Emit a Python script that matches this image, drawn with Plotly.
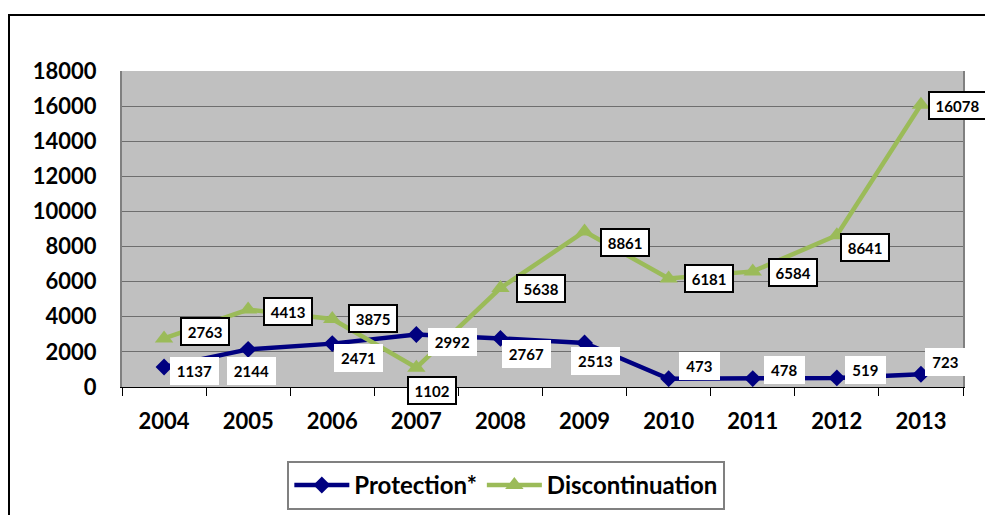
import plotly.graph_objects as go

years = ["2004", "2005", "2006", "2007", "2008", "2009", "2010", "2011", "2012", "2013"]
protection = [1137, 2144, 2471, 2992, 2767, 2513, 473, 478, 519, 723]
discontinuation = [2763, 4413, 3875, 1102, 5638, 8861, 6181, 6584, 8641, 16078]
series_names = ["Protection*", "Discontinuation"]
y_ticks = [0, 2000, 4000, 6000, 8000, 10000, 12000, 14000, 16000, 18000]

# label offsets (pixels, relative to the point)
prot_dx = [30, 3, 26, 36, 26, 11, 31, 32, 29, 25]
prot_dy = [4, 22, 14, 8, 16, 18, -13, -9, -8, -12]
disc_dx = [41, 40, 41, 16, 41, 40, 40, 40, 28, 37]
disc_dy = [-7, 2, 0, 23, 0, 11, 0, 1, 12, 1]

FONT = "Lato, 'Liberation Sans', sans-serif"
NAVY = "#000080"
GREEN = "#9BBB59"

xi = list(range(len(years)))

fig = go.Figure()
fig.add_trace(go.Scatter(
    x=xi, y=protection, name=series_names[0], mode="lines+markers",
    line=dict(color=NAVY, width=4.5),
    marker=dict(symbol="diamond", size=13, color=NAVY),
))
fig.add_trace(go.Scatter(
    x=xi, y=discontinuation, name=series_names[1], mode="lines+markers",
    line=dict(color=GREEN, width=4.5),
    marker=dict(symbol="triangle-up", size=16, color=GREEN),
))

annotations = []
for i, v in enumerate(protection):
    t = str(v)
    annotations.append(dict(
        x=xi[i], y=v, text="<b>%s</b>" % t, showarrow=False,
        xshift=prot_dx[i], yshift=-prot_dy[i],
        font=dict(family=FONT, size=15, color="black"),
        bgcolor="white", borderwidth=0, borderpad=0,
        width=len(t) * 8.2 + 16, height=28,
    ))
for i, v in enumerate(discontinuation):
    t = str(v)
    annotations.append(dict(
        x=xi[i], y=v, text="<b>%s</b>" % t, showarrow=False,
        xshift=disc_dx[i], yshift=-disc_dy[i],
        font=dict(family=FONT, size=15, color="black"),
        bgcolor="white", bordercolor="black", borderwidth=2, borderpad=3,
        width=len(t) * 8.8 + 5, height=19,
    ))

# page body has an 8px margin: plot area sits at (122..963, 71..387) on screen
fig.update_layout(
    width=985, height=507,
    margin=dict(l=114, r=30, t=63, b=128, autoexpand=False),
    paper_bgcolor="white",
    plot_bgcolor="#C0C0C0",
    font=dict(family=FONT, color="black"),
    showlegend=True,
    legend=dict(
        orientation="h", x=0.457, xanchor="center", y=-0.234, yanchor="top",
        bgcolor="white", bordercolor="#808080", borderwidth=2,
        font=dict(family=FONT, size=24, color="black", weight="bold"),
        itemwidth=55, tracegroupgap=0,
    ),
    annotations=annotations,
    shapes=[dict(
        type="rect", xref="paper", yref="paper",
        x0=(9 - 122) / 841, x1=(1010 - 122) / 841,
        y0=(387 - 540) / 316, y1=(387 - 15) / 316,
        line=dict(color="black", width=2), fillcolor="rgba(0,0,0,0)",
    )],
)

fig.update_xaxes(
    range=[-0.5, len(years) - 0.5],
    tickvals=xi, ticktext=years, ticks="",
    minor=dict(tickvals=[i - 0.5 for i in range(len(years) + 1)],
               ticks="outside", ticklen=8, tickcolor="black", tickwidth=1,
               showgrid=False),
    showline=True, linecolor="black", linewidth=1,
    showgrid=False, zeroline=False, ticklabelstandoff=15, automargin=False,
    tickfont=dict(family=FONT, size=22, color="black", weight="bold"),
)
fig.update_yaxes(
    range=[0, 18000], tickvals=y_ticks, tickformat="d",
    showgrid=True, gridcolor="#6E6E6E", gridwidth=1,
    showline=True, linecolor="#808080", linewidth=2, mirror=True,
    ticks="", zeroline=False, ticklabelstandoff=19, automargin=False,
    tickfont=dict(family=FONT, size=22, color="black", weight="bold"),
)

fig.write_html("out.html")
